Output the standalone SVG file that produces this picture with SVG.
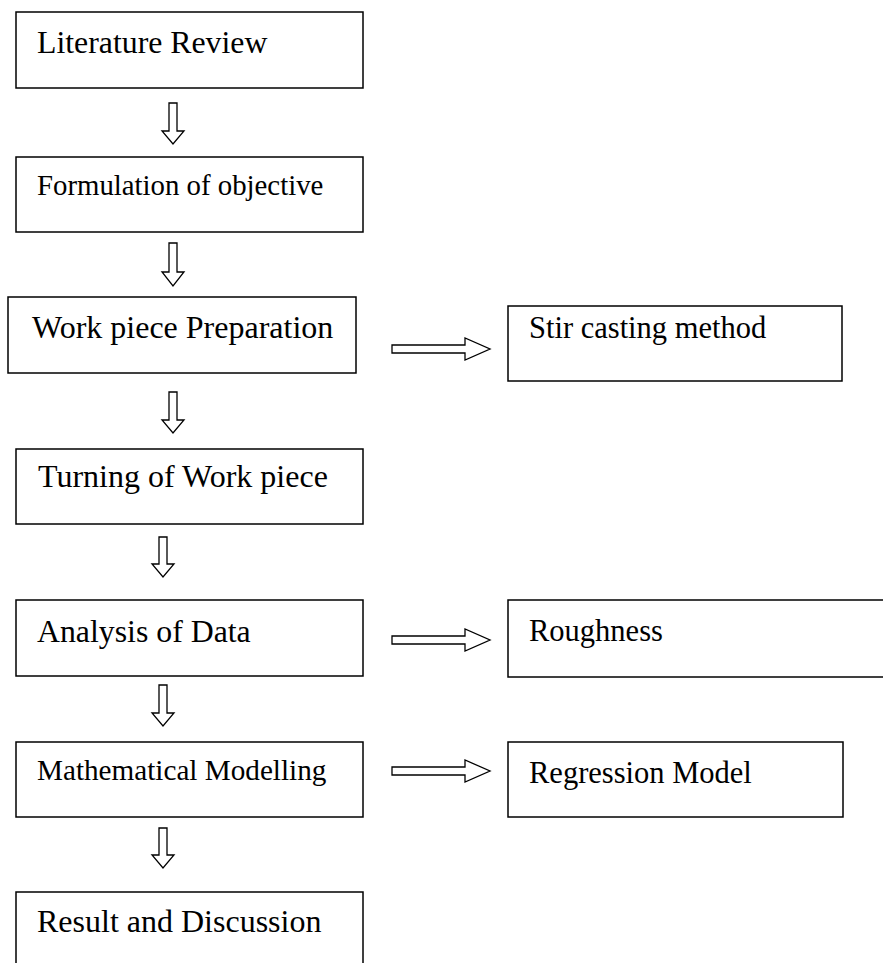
<svg xmlns="http://www.w3.org/2000/svg" width="883" height="963" viewBox="0 0 883 963">
<style>
.box{fill:#fff;stroke:#000;stroke-width:1.5}
.lbl{font-family:"Liberation Serif","Times New Roman",serif;fill:#000}
.arr{fill:#fff;stroke:#000;stroke-width:1.3;stroke-linejoin:miter}
</style>
<rect width="883" height="963" fill="#fff"/>
<g id="n1"><rect class="box" x="16" y="12" width="347" height="76"/><text class="lbl" x="37" y="53" font-size="31.8">Literature Review</text></g>
<g id="n2"><rect class="box" x="16" y="157" width="347" height="75"/><text class="lbl" x="37" y="195" font-size="28.8">Formulation of objective</text></g>
<g id="n3"><rect class="box" x="8" y="297" width="348" height="76"/><text class="lbl" x="32" y="338" font-size="32">Work piece Preparation</text></g>
<g id="n4"><rect class="box" x="16" y="449" width="347" height="75"/><text class="lbl" x="38" y="487" font-size="32">Turning of Work piece</text></g>
<g id="n5"><rect class="box" x="16" y="600" width="347" height="76"/><text class="lbl" x="37" y="642" font-size="31.8">Analysis of Data</text></g>
<g id="n6"><rect class="box" x="16" y="742" width="347" height="75"/><text class="lbl" x="37" y="780" font-size="29.2">Mathematical Modelling</text></g>
<g id="n7"><rect class="box" x="16" y="892" width="347" height="100"/><text class="lbl" x="37" y="932" font-size="32">Result and Discussion</text></g>
<g id="s1"><rect class="box" x="508" y="306" width="334" height="75"/><text class="lbl" x="529" y="338" font-size="30.5">Stir casting method</text></g>
<g id="s2"><rect class="box" x="508" y="600" width="400" height="77"/><text class="lbl" x="529" y="641" font-size="30.5">Roughness</text></g>
<g id="s3"><rect class="box" x="508" y="742" width="335" height="75"/><text class="lbl" x="529" y="783" font-size="30.5">Regression Model</text></g>
<g id="connectors">
<polygon class="arr" points="169,103 177,103 177,131 184,131 173,144 162,131 169,131"/>
<polygon class="arr" points="169,243 177,243 177,272 184,272 173,286 162,272 169,272"/>
<polygon class="arr" points="169,392 177,392 177,420 184,420 173,433 162,420 169,420"/>
<polygon class="arr" points="159,537 167,537 167,564 174,564 163,577 152,564 159,564"/>
<polygon class="arr" points="159,685 167,685 167,713 174,713 163,726 152,713 159,713"/>
<polygon class="arr" points="159,828 167,828 167,855 174,855 163,868 152,855 159,855"/>
<polygon class="arr" points="392,345 465,345 465,338 490,349 465,360 465,353 392,353"/>
<polygon class="arr" points="392,636 465,636 465,629 490,640 465,651 465,644 392,644"/>
<polygon class="arr" points="392,767 465,767 465,760 490,771 465,782 465,775 392,775"/>
</g>
</svg>
